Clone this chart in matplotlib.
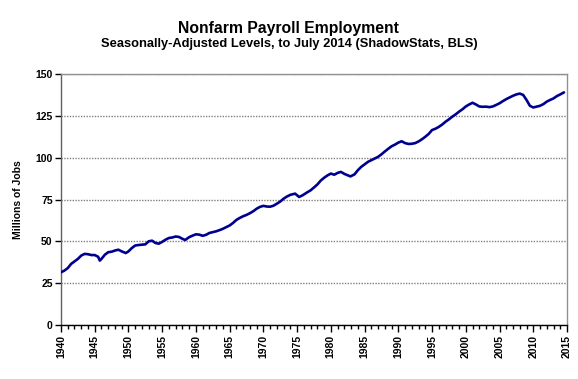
import matplotlib
matplotlib.use("Agg")
import matplotlib.pyplot as plt
from matplotlib.ticker import MultipleLocator

plt.rcParams['font.family'] = ['Liberation Sans', 'DejaVu Sans']

years = [1940.0, 1940.5, 1941.0, 1941.5, 1942.0, 1942.5, 1943.0, 1943.5, 1944.0, 1944.5,
         1945.0, 1945.5, 1945.75, 1946.0, 1946.5, 1947.0, 1947.5, 1948.0, 1948.5, 1949.0,
         1949.6, 1950.0, 1950.5, 1951.0, 1951.5, 1952.0, 1952.5, 1953.0, 1953.5, 1954.0,
         1954.5, 1955.0, 1955.5, 1956.0, 1956.5, 1957.0, 1957.5, 1958.0, 1958.4, 1959.0,
         1959.5, 1960.0, 1960.5, 1961.0, 1961.5, 1962.0, 1962.5, 1963.0, 1963.5, 1964.0,
         1964.5, 1965.0, 1965.5, 1966.0, 1966.5, 1967.0, 1967.5, 1968.0, 1968.5, 1969.0,
         1969.5, 1970.0, 1970.5, 1971.0, 1971.5, 1972.0, 1972.5, 1973.0, 1973.5, 1974.0,
         1974.7, 1975.3, 1975.8, 1976.5, 1977.0, 1977.5, 1978.0, 1978.5, 1979.0, 1979.5,
         1980.0, 1980.5, 1981.0, 1981.5, 1982.0, 1982.5, 1982.9, 1983.5, 1984.0, 1984.5,
         1985.0, 1985.5, 1986.0, 1986.5, 1987.0, 1987.5, 1988.0, 1988.5, 1989.0, 1989.5,
         1990.0, 1990.5, 1991.0, 1991.5, 1992.0, 1992.5, 1993.0, 1993.5, 1994.0, 1994.5,
         1995.0, 1995.5, 1996.0, 1996.5, 1997.0, 1997.5, 1998.0, 1998.5, 1999.0, 1999.5,
         2000.0, 2000.5, 2001.0, 2001.5, 2002.0, 2002.5, 2003.0, 2003.5, 2004.0, 2004.5,
         2005.0, 2005.5, 2006.0, 2006.5, 2007.0, 2007.5, 2008.0, 2008.5, 2009.0, 2009.5,
         2010.0, 2010.5, 2011.0, 2011.5, 2012.0, 2012.5, 2013.0, 2013.5, 2014.0, 2014.55]

jobs = [31.5, 32.5, 34.0, 36.5, 38.0, 39.5, 41.5, 42.5, 42.3, 41.8,
        41.8, 40.8, 38.5, 39.5, 42.0, 43.5, 43.8, 44.5, 45.0, 44.0,
        43.0, 44.0, 46.0, 47.5, 47.8, 48.0, 48.2, 50.0, 50.4, 49.0,
        48.6, 49.7, 51.0, 52.0, 52.3, 52.9, 52.6, 51.5, 50.8, 52.5,
        53.4, 54.2, 54.0, 53.3, 53.9, 55.0, 55.5, 56.0, 56.7, 57.5,
        58.5, 59.5, 61.0, 62.8, 64.0, 65.0, 65.8, 66.8, 68.0, 69.5,
        70.6, 71.2, 70.8, 70.7, 71.3, 72.5, 73.8, 75.5, 76.8, 77.8,
        78.5, 76.5, 77.5, 79.3, 80.5, 82.2, 84.0, 86.3, 88.0, 89.4,
        90.5, 89.8, 90.9, 91.5, 90.3, 89.5, 88.8, 90.0, 92.5, 94.5,
        96.0, 97.5, 98.5, 99.5, 100.5, 102.0, 103.7, 105.3, 106.8, 107.8,
        109.0, 109.8, 108.7, 108.2, 108.3, 108.7, 109.7, 111.0, 112.5, 114.2,
        116.5, 117.3, 118.4, 119.8, 121.5, 122.9, 124.5, 125.9, 127.5, 128.9,
        130.6, 131.8, 132.8, 131.8, 130.6, 130.4, 130.5, 130.2, 130.6, 131.5,
        132.5, 133.8, 135.0, 136.0, 137.0, 137.8, 138.3, 137.5, 134.5, 131.0,
        130.0, 130.5, 131.0, 132.0, 133.5, 134.5, 135.4, 136.8, 137.8, 139.0]

title = "Nonfarm Payroll Employment"
subtitle = "Seasonally-Adjusted Levels, to July 2014 (ShadowStats, BLS)"
ylabel = "Millions of Jobs"

fig = plt.figure(figsize=(5.78, 3.79), dpi=100)
ax = fig.add_axes([61/578, 1-325/379, (567-61)/578, (325-74)/379])

ax.plot(years, jobs, color='#000090', lw=1.9, solid_capstyle='round', zorder=3)

ax.set_xlim(1940, 2015)
ax.set_ylim(0, 150)
ax.yaxis.set_major_locator(MultipleLocator(25))
ax.xaxis.set_major_locator(MultipleLocator(5))
ax.xaxis.set_minor_locator(MultipleLocator(1))
ax.grid(axis='y', color='#808080', lw=1.0, ls=(0, (1, 1)), zorder=1)

for s in ['top', 'right']:
    ax.spines[s].set_color('#909090')
    ax.spines[s].set_linestyle((0, (1, 1)))
    ax.spines[s].set_linewidth(1.0)
ax.spines['left'].set_color('#606060')
ax.spines['left'].set_linewidth(1.0)
ax.spines['bottom'].set_color('black')
ax.spines['bottom'].set_linewidth(1.0)

ax.tick_params(axis='x', which='major', length=5, width=1, direction='out', pad=2)
ax.tick_params(axis='x', which='minor', length=3, width=1, direction='out')
ax.tick_params(axis='y', length=4, width=1, direction='out', pad=2)

for lab in ax.get_xticklabels():
    lab.set_rotation(90)
for lab in ax.get_xticklabels() + ax.get_yticklabels():
    lab.set_fontsize(7.5)
    lab.set_fontweight('bold')

ax.set_ylabel(ylabel, fontsize=7.5, fontweight='bold')
ax.yaxis.set_label_coords((23 - 61) / 506, 0.5)

fig.text(0.5, 1-28/379, title, ha='center', va='center', fontsize=11.3, fontweight='bold')
fig.text(0.5, 1-44/379, subtitle, ha='center', va='center', fontsize=9.3, fontweight='bold')

fig.savefig('out.png', dpi=100)
